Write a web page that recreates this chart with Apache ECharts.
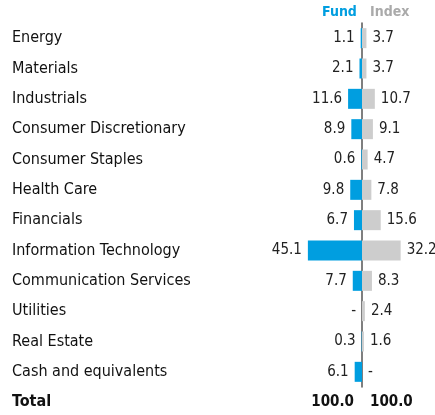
<!DOCTYPE html>
<html>
<head>
<meta charset="utf-8">
<script src="https://cdn.jsdelivr.net/npm/echarts@6/dist/echarts.min.js"></script>
<style>
  html, body { margin: 0; padding: 0; background: #fff; }
  #chart { width: 435px; height: 415px; }
</style>
</head>
<body>
<div id="chart"></div>
<script>
// sector weights (%), null = not held
const sectors = ['Energy', 'Materials', 'Industrials', 'Consumer Discretionary', 'Consumer Staples',
  'Health Care', 'Financials', 'Information Technology', 'Communication Services', 'Utilities',
  'Real Estate', 'Cash and equivalents']
const fund = [1.1, 2.1, 11.6, 8.9, 0.6, 9.8, 6.7, 45.1, 7.7, null, 0.3, 6.1]
const index = [3.7, 3.7, 10.7, 9.1, 4.7, 7.8, 15.6, 32.2, 8.3, 2.4, 1.6, null]
const totalLabel = ['Total']
const fundTotal = [100.0]
const indexTotal = [100.0]

const FONT = "'Liberation Sans Narrow', 'DejaVu Sans Condensed', 'Arial Narrow', sans-serif"
const BLUE = '#009ee0'
const GREY = '#cdcdcd'

const fmt = (v) => (v === null ? '-' : v.toFixed(1))

const chart = echarts.init(document.getElementById('chart'))

// category names sit left-aligned at the page edge (labels are laid out from the grid's left side)
const nameLabel = (bold) => ({
  margin: 278,
  align: 'left',
  color: '#111',
  fontSize: 16,
  fontFamily: FONT,
  fontWeight: bold ? 'bold' : 'normal'
})

const option = {
  animation: false,
  textStyle: { fontFamily: FONT },
  graphic: [
    { type: 'text', left: 322, top: 5, style: { text: 'Fund', fill: BLUE, font: 'bold 14px ' + FONT } },
    { type: 'text', left: 370, top: 5, style: { text: 'Index', fill: '#aaaaaa', font: 'bold 14px ' + FONT } }
  ],
  grid: [
    { left: 290, right: 1, top: 23, height: 364, outerBoundsMode: 'none', containLabel: false },
    { left: 290, right: 1, top: 387, height: 30, outerBoundsMode: 'none', containLabel: false }
  ],
  xAxis: [
    { gridIndex: 0, type: 'value', min: -60, max: 60, show: false },
    { gridIndex: 1, type: 'value', min: -60, max: 60, show: false }
  ],
  yAxis: [
    {
      gridIndex: 0,
      type: 'category',
      inverse: true,
      data: sectors,
      axisTick: { show: false },
      axisLine: { show: true, onZero: true, lineStyle: { color: '#555', width: 1.5 } },
      axisLabel: nameLabel(false)
    },
    {
      gridIndex: 1,
      type: 'category',
      inverse: true,
      data: totalLabel,
      axisTick: { show: false },
      axisLine: { show: false },
      axisLabel: nameLabel(true)
    }
  ],
  series: [
    {
      name: 'Fund',
      type: 'bar',
      barWidth: 20,
      barGap: '-100%',
      itemStyle: { color: BLUE },
      data: fund.map(v => (v === null ? 0 : -v)),
      label: {
        show: true,
        position: 'left',
        distance: 6,
        color: '#222',
        fontSize: 15,
        fontFamily: FONT,
        formatter: (p) => fmt(fund[p.dataIndex])
      }
    },
    {
      name: 'Index',
      type: 'bar',
      barWidth: 20,
      barGap: '-100%',
      itemStyle: { color: GREY },
      data: index.map(v => (v === null ? 0 : v)),
      label: {
        show: true,
        position: 'right',
        distance: 6,
        color: '#222',
        fontSize: 15,
        fontFamily: FONT,
        formatter: (p) => fmt(index[p.dataIndex])
      }
    },
    {
      type: 'bar',
      xAxisIndex: 1,
      yAxisIndex: 1,
      barWidth: 20,
      barGap: '-100%',
      data: fundTotal.map(() => 0),
      label: {
        show: true,
        position: 'left',
        distance: 8,
        color: '#111',
        fontSize: 15,
        fontWeight: 'bold',
        fontFamily: FONT,
        formatter: (p) => fmt(fundTotal[p.dataIndex])
      }
    },
    {
      type: 'bar',
      xAxisIndex: 1,
      yAxisIndex: 1,
      barWidth: 20,
      barGap: '-100%',
      data: indexTotal.map(() => 0),
      label: {
        show: true,
        position: 'right',
        distance: 8,
        color: '#111',
        fontSize: 15,
        fontWeight: 'bold',
        fontFamily: FONT,
        formatter: (p) => fmt(indexTotal[p.dataIndex])
      }
    }
  ]
}

chart.setOption(option)
window.addEventListener('resize', () => chart.resize())
</script>
</body>
</html>
